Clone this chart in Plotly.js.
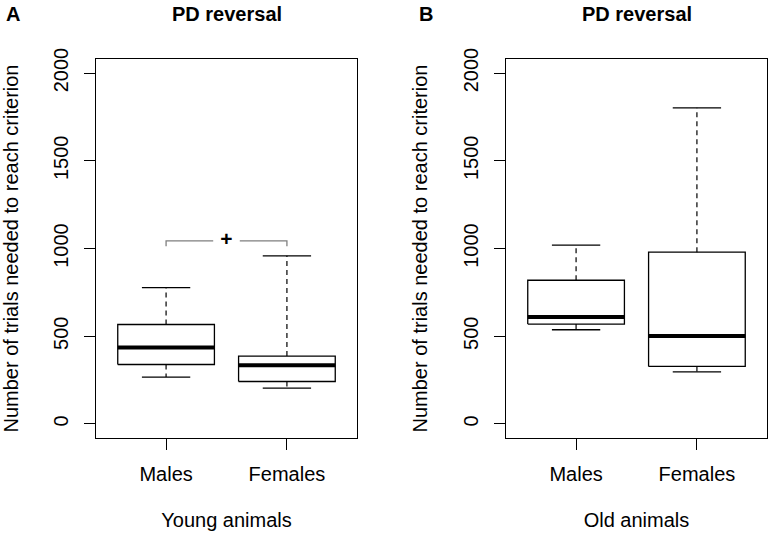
<!DOCTYPE html>
<html>
<head>
<meta charset="utf-8">
<script src="https://cdn.plot.ly/plotly-3.0.1.min.js"></script>
<style>html,body{margin:0;padding:0;background:#fff}#chart{width:772px;height:538px}</style>
</head>
<body>
<div id="chart"></div>
<script>
// ---- data ----
const groups = ["Males", "Females"];
const panels = ["A", "B"];
const panelTitles = ["PD reversal", "PD reversal"];
const xTitles = ["Young animals", "Old animals"];
const yTitle = "Number of trials needed to reach criterion";
const yTicks = [0, 500, 1000, 1500, 2000];

// Young animals (panel A)
const youngLower  = [267, 204];
const youngQ1     = [339, 242];
const youngMedian = [436, 335];
const youngQ3     = [567, 387];
const youngUpper  = [777, 958];

// Old animals (panel B)
const oldLower  = [537, 297];
const oldQ1     = [569, 328];
const oldMedian = [609, 501];
const oldQ3     = [819, 979];
const oldUpper  = [1019, 1802];

// significance bracket in panel A
const bracketFrom = 1, bracketTo = 2;
const bracketTop = 1043, bracketEnd = 1013;
const bracketLabel = "+";

// ---- build traces ----
const HW = 0.4, CW = 0.2;
const font = "Liberation Sans, Arial, sans-serif";
const FS = 20;
const traces = [];
function panelTraces(lower, q1, med, q3, upper, xa, ya) {
  const bx = [], by = [], mx = [], my = [], wx = [], wy = [], cx = [], cy = [];
  groups.forEach((g, i) => {
    const c = i + 1;
    bx.push(c - HW, c + HW, c + HW, c - HW, c - HW, null);
    by.push(q1[i], q1[i], q3[i], q3[i], q1[i], null);
    mx.push(c - HW, c + HW, null); my.push(med[i], med[i], null);
    wx.push(c, c, null, c, c, null); wy.push(q3[i], upper[i], null, q1[i], lower[i], null);
    cx.push(c - CW, c + CW, null, c - CW, c + CW, null);
    cy.push(upper[i], upper[i], null, lower[i], lower[i], null);
  });
  const base = {type: "scatter", mode: "lines", xaxis: xa, yaxis: ya, hoverinfo: "skip", showlegend: false};
  traces.push(Object.assign({}, base, {x: wx, y: wy, line: {color: "#000", width: 1.2, dash: "5px,4px"}}));
  traces.push(Object.assign({}, base, {x: cx, y: cy, line: {color: "#000", width: 1.3}}));
  traces.push(Object.assign({}, base, {x: bx, y: by, line: {color: "#000", width: 1.3}}));
  traces.push(Object.assign({}, base, {x: mx, y: my, line: {color: "#000", width: 4}}));
}
panelTraces(youngLower, youngQ1, youngMedian, youngQ3, youngUpper, "x", "y");
panelTraces(oldLower, oldQ1, oldMedian, oldQ3, oldUpper, "x2", "y2");

// bracket
const mid = (bracketFrom + bracketTo) / 2;
traces.push({
  type: "scatter", mode: "lines", xaxis: "x", yaxis: "y", hoverinfo: "skip", showlegend: false,
  x: [bracketFrom, bracketFrom, mid - 0.11, null, mid + 0.11, bracketTo, bracketTo],
  y: [bracketEnd, bracketTop, bracketTop, null, bracketTop, bracketTop, bracketEnd],
  line: {color: "#7f7f7f", width: 1.3}
});
traces.push({
  type: "scatter", mode: "text", xaxis: "x", yaxis: "y", hoverinfo: "skip", showlegend: false,
  x: [mid], y: [bracketTop], text: [bracketLabel],
  textfont: {family: font, size: 21, color: "#000", weight: "bold"}, textposition: "middle center"
});

// ---- layout ----
const xdoms = [[96 / 772, 357 / 772], [506 / 772, 767 / 772]];
const ydom = [1 - 438 / 538, 1 - 59 / 538];
function xaxis(i) {
  return {
    domain: xdoms[i], range: [0.42, 2.58], tickvals: [1, 2], ticktext: groups,
    ticks: "outside", ticklen: 11, tickcolor: "#000", tickwidth: 1,
    showline: true, mirror: true, linecolor: "#000", linewidth: 1.2,
    showgrid: false, zeroline: false, fixedrange: true,
    tickfont: {family: font, size: FS, color: "#000"}, ticklabelstandoff: 7,
    title: {text: xTitles[i], font: {family: font, size: FS, color: "#000"}, standoff: 28},
    anchor: i === 0 ? "y" : "y2"
  };
}
function yaxis(i) {
  return {
    domain: ydom, range: [-80, 2080], tickvals: yTicks, ticktext: yTicks.map(String),
    tickangle: -90,
    ticks: "outside", ticklen: 11, tickcolor: "#000", tickwidth: 1,
    showline: true, mirror: true, linecolor: "#000", linewidth: 1.2,
    showgrid: false, zeroline: false, fixedrange: true,
    tickfont: {family: font, size: FS, color: "#000"}, ticklabelstandoff: 8,
    title: {text: yTitle, font: {family: font, size: FS, color: "#000"}, standoff: 26},
    anchor: i === 0 ? "x" : "x2"
  };
}
const annotations = [];
panels.forEach((p, i) => {
  annotations.push({xref: "paper", yref: "paper", x: (xdoms[i][0] + xdoms[i][1]) / 2, y: 1 - 14 / 538,
    text: "<b>" + panelTitles[i] + "</b>", showarrow: false, xanchor: "center", yanchor: "middle",
    font: {family: font, size: FS, color: "#000"}});
  annotations.push({xref: "paper", yref: "paper", x: (i === 0 ? 13 : 426) / 772, y: 1 - 14 / 538,
    text: "<b>" + p + "</b>", showarrow: false, xanchor: "center", yanchor: "middle",
    font: {family: font, size: FS, color: "#000"}});
});

const layout = {
  width: 772, height: 538,
  margin: {l: 0, r: 0, t: 0, b: 0, pad: 0},
  paper_bgcolor: "#fff", plot_bgcolor: "#fff",
  showlegend: false,
  xaxis: xaxis(0), yaxis: yaxis(0), xaxis2: xaxis(1), yaxis2: yaxis(1),
  annotations: annotations
};
Plotly.newPlot("chart", traces, layout, {displayModeBar: false, staticPlot: true});
</script>
</body>
</html>
